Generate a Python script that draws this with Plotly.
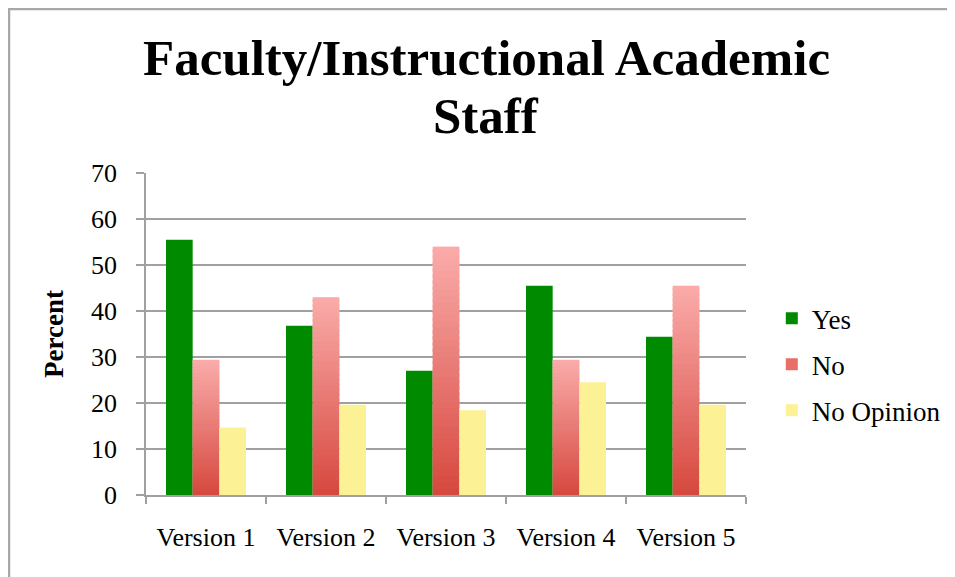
import plotly.graph_objects as go

categories = ["Version 1", "Version 2", "Version 3", "Version 4", "Version 5"]
yes_vals = [55.5, 36.8, 27.0, 45.5, 34.4]
no_vals = [29.4, 43.0, 54.0, 29.4, 45.5]
noop_vals = [14.7, 19.6, 18.4, 24.5, 19.6]
y_ticks = [0, 10, 20, 30, 40, 50, 60, 70]
title_lines = ["Faculty/Instructional Academic", "Staff"]

SERIF = "Liberation Serif"
N_SEG = 40
top_rgb = (250, 172, 170)
bot_rgb = (214, 72, 62)

# plot area in figure pixels
L, T, W, H = 138, 165, 600, 322

fig = go.Figure()

fig.add_trace(go.Bar(
    x=categories, y=yes_vals, name="Yes", offsetgroup="a",
    marker=dict(color="#008a00", line=dict(width=0)),
    legendgroup="yes", legendrank=1,
))

# "No" bars drawn as a vertical gradient of stacked slices of each bar
for k in range(N_SEG):
    t = (k + 0.5) / N_SEG  # 0 bottom -> 1 top
    c = tuple(round(b + (tp - b) * t) for b, tp in zip(bot_rgb, top_rgb))
    frac = 1.6 if k < N_SEG - 1 else 1.0
    fig.add_trace(go.Bar(
        x=categories,
        y=[v / N_SEG * frac for v in no_vals],
        base=[v * k / N_SEG for v in no_vals],
        offsetgroup="b",
        marker=dict(color="rgb(%d,%d,%d)" % c, line=dict(width=0)),
        showlegend=False, legendgroup="no", hoverinfo="skip",
    ))
fig.add_trace(go.Bar(
    x=[None], y=[None], name="No", offsetgroup="b",
    marker=dict(color="#e86f68", line=dict(width=0)),
    legendgroup="no", legendrank=2, showlegend=True,
))

fig.add_trace(go.Bar(
    x=categories, y=noop_vals, name="No Opinion", offsetgroup="c",
    marker=dict(color="#fdf196", line=dict(width=0)),
    legendgroup="noop", legendrank=3,
))

title_tops = [20, 78]  # figure pixels from top
fig.update_layout(
    width=955, height=577,
    paper_bgcolor="white", plot_bgcolor="white",
    margin=dict(l=L, r=955 - L - W, t=T, b=577 - T - H),
    barmode="group", bargap=1/3, bargroupgap=0,
    font=dict(family=SERIF, color="black"),
    showlegend=True,
    legend=dict(
        x=1.043, xanchor="left", y=0.405, yanchor="middle",
        font=dict(family=SERIF, size=27, color="black"),
        traceorder="grouped", tracegroupgap=8,
        itemwidth=30, bgcolor="rgba(0,0,0,0)",
    ),
    annotations=[dict(
        text="<b>%s</b>" % line,
        xref="paper", yref="paper", x=0.567, y=(T + H - top) / H,
        xanchor="center", yanchor="top", showarrow=False,
        font=dict(family=SERIF, size=51, color="black"),
    ) for line, top in zip(title_lines, title_tops)],
    shapes=[dict(
        type="rect", xref="paper", yref="paper",
        x0=(1 - L) / W, x1=(1100 - L) / W,
        y0=(T + H - 700) / H, y1=(T + H - 1) / H,
        line=dict(color="#a8a8a8", width=2.5), fillcolor="rgba(0,0,0,0)",
        layer="below",
    )],
)

fig.update_xaxes(
    showline=True, linecolor="#a0a0a0", linewidth=1.5,
    ticks="outside", tickson="boundaries", ticklen=7, tickcolor="#a0a0a0", tickwidth=1.5,
    tickfont=dict(family=SERIF, size=26, color="black"),
    ticklabelstandoff=18,
    showgrid=False,
)
fig.update_yaxes(
    range=[0, 70], tickvals=y_ticks,
    showline=True, linecolor="#a0a0a0", linewidth=1.5,
    showgrid=True, gridcolor="#a0a0a0", gridwidth=1.5,
    ticks="outside", ticklen=8, tickcolor="#a0a0a0", tickwidth=1.5,
    tickfont=dict(family=SERIF, size=26, color="black"),
    ticklabelstandoff=14,
    zeroline=False,
    title=dict(text="<b>Percent</b>", font=dict(family=SERIF, size=27, color="black"), standoff=20),
)

fig.write_html("out.html")
